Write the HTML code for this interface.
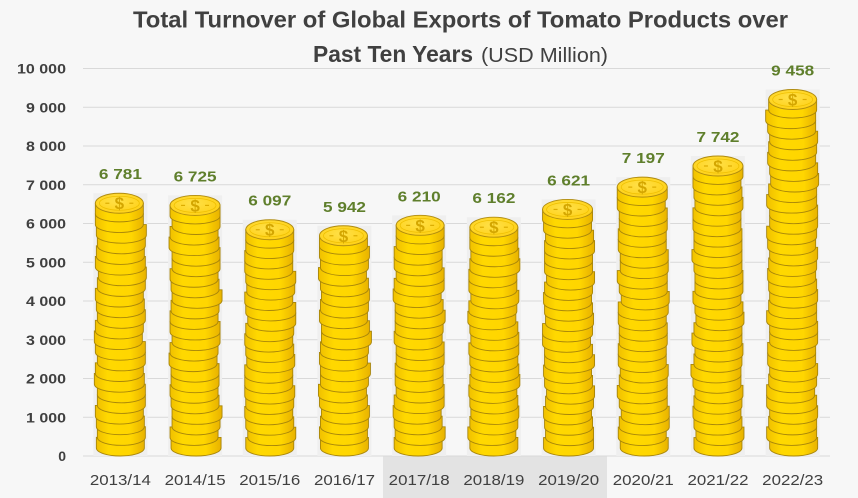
<!DOCTYPE html>
<html>
<head>
<meta charset="utf-8">
<style>
  html,body{margin:0;padding:0;background:#f7f7f7;}
  svg{display:block;}
  .t{font-family:"Liberation Sans",sans-serif;fill:#404040;}
</style>
</head>
<body>
<svg id="chart" width="858" height="498" viewBox="0 0 858 498" xmlns="http://www.w3.org/2000/svg">
  <defs>
    <linearGradient id="side" x1="0" y1="0" x2="1" y2="0">
      <stop offset="0" stop-color="#f0c000"/>
      <stop offset="0.25" stop-color="#ffd800"/>
      <stop offset="0.7" stop-color="#ffd600"/>
      <stop offset="1" stop-color="#e8b200"/>
    </linearGradient>
    <radialGradient id="face" cx="0.45" cy="0.4" r="0.7">
      <stop offset="0" stop-color="#ffe048"/>
      <stop offset="1" stop-color="#ffcf10"/>
    </radialGradient>
  </defs>
  <rect x="0" y="0" width="858" height="498" fill="#f7f7f7"/>
  <rect x="383" y="456" width="224" height="42" fill="#e3e3e3"/>

  <g stroke="#d9d9d9" stroke-width="1">
    <line x1="83" y1="68.5" x2="830" y2="68.5"/>
    <line x1="83" y1="107.25" x2="830" y2="107.25"/>
    <line x1="83" y1="146" x2="830" y2="146"/>
    <line x1="83" y1="184.75" x2="830" y2="184.75"/>
    <line x1="83" y1="223.5" x2="830" y2="223.5"/>
    <line x1="83" y1="262.25" x2="830" y2="262.25"/>
    <line x1="83" y1="301" x2="830" y2="301"/>
    <line x1="83" y1="339.75" x2="830" y2="339.75"/>
    <line x1="83" y1="378.5" x2="830" y2="378.5"/>
    <line x1="83" y1="417.25" x2="830" y2="417.25"/>
    <line x1="83" y1="456" x2="830" y2="456"/>
  </g>

  <g class="t" font-size="14" font-weight="bold" text-anchor="end">
    <text x="66" y="73.5" textLength="49" lengthAdjust="spacingAndGlyphs">10 000</text>
    <text x="66" y="112.25" textLength="40" lengthAdjust="spacingAndGlyphs">9 000</text>
    <text x="66" y="151" textLength="40" lengthAdjust="spacingAndGlyphs">8 000</text>
    <text x="66" y="189.75" textLength="40" lengthAdjust="spacingAndGlyphs">7 000</text>
    <text x="66" y="228.5" textLength="40" lengthAdjust="spacingAndGlyphs">6 000</text>
    <text x="66" y="267.25" textLength="40" lengthAdjust="spacingAndGlyphs">5 000</text>
    <text x="66" y="306" textLength="40" lengthAdjust="spacingAndGlyphs">4 000</text>
    <text x="66" y="344.75" textLength="40" lengthAdjust="spacingAndGlyphs">3 000</text>
    <text x="66" y="383.5" textLength="40" lengthAdjust="spacingAndGlyphs">2 000</text>
    <text x="66" y="422.25" textLength="40" lengthAdjust="spacingAndGlyphs">1 000</text>
    <text x="66" y="461">0</text>
  </g>

  <g id="coins"></g>

  <g font-family="Liberation Sans, sans-serif" font-size="15" font-weight="bold" fill="#5f7f2c" text-anchor="middle">
    <text x="120.4" y="179.2" textLength="43" lengthAdjust="spacingAndGlyphs">6 781</text>
    <text x="195.1" y="181.4" textLength="43" lengthAdjust="spacingAndGlyphs">6 725</text>
    <text x="269.8" y="205.7" textLength="43" lengthAdjust="spacingAndGlyphs">6 097</text>
    <text x="344.5" y="211.8" textLength="43" lengthAdjust="spacingAndGlyphs">5 942</text>
    <text x="419.2" y="201.4" textLength="43" lengthAdjust="spacingAndGlyphs">6 210</text>
    <text x="493.9" y="203.2" textLength="43" lengthAdjust="spacingAndGlyphs">6 162</text>
    <text x="568.6" y="185.4" textLength="43" lengthAdjust="spacingAndGlyphs">6 621</text>
    <text x="643.3" y="163.1" textLength="43" lengthAdjust="spacingAndGlyphs">7 197</text>
    <text x="718.0" y="142.0" textLength="43" lengthAdjust="spacingAndGlyphs">7 742</text>
    <text x="792.7" y="75.5" textLength="43" lengthAdjust="spacingAndGlyphs">9 458</text>
  </g>

  <g class="t" font-size="15" text-anchor="middle">
    <text x="120.4" y="485" textLength="61" lengthAdjust="spacingAndGlyphs">2013/14</text>
    <text x="195.1" y="485" textLength="61" lengthAdjust="spacingAndGlyphs">2014/15</text>
    <text x="269.8" y="485" textLength="61" lengthAdjust="spacingAndGlyphs">2015/16</text>
    <text x="344.5" y="485" textLength="61" lengthAdjust="spacingAndGlyphs">2016/17</text>
    <text x="419.2" y="485" textLength="61" lengthAdjust="spacingAndGlyphs">2017/18</text>
    <text x="493.9" y="485" textLength="61" lengthAdjust="spacingAndGlyphs">2018/19</text>
    <text x="568.6" y="485" textLength="61" lengthAdjust="spacingAndGlyphs">2019/20</text>
    <text x="643.3" y="485" textLength="61" lengthAdjust="spacingAndGlyphs">2020/21</text>
    <text x="718.0" y="485" textLength="61" lengthAdjust="spacingAndGlyphs">2021/22</text>
    <text x="792.7" y="485" textLength="61" lengthAdjust="spacingAndGlyphs">2022/23</text>
  </g>

  <text class="t" x="460.5" y="27.5" font-size="23" font-weight="bold" text-anchor="middle" textLength="655" lengthAdjust="spacingAndGlyphs">Total Turnover of Global Exports of Tomato Products over</text>
  <text class="t" x="313" y="62" font-size="23" font-weight="bold" textLength="160" lengthAdjust="spacingAndGlyphs">Past Ten Years</text>
  <text class="t" x="481" y="62" font-size="20" textLength="127" lengthAdjust="spacingAndGlyphs">(USD Million)</text>
</svg>

<script>
(function(){
  var NS = "http://www.w3.org/2000/svg";
  var g = document.getElementById("coins");
  var vals = [6781,6725,6097,5942,6210,6162,6621,7197,7742,9458];
  var base = 456, scale = 0.03875;
  function el(name, attrs){
    var e = document.createElementNS(NS, name);
    for (var k in attrs) e.setAttribute(k, attrs[k]);
    return e;
  }
  for (var b = 0; b < vals.length; b++){
    var cx = 83 + 74.7*(b+0.5);
    var top = base - vals[b]*scale;
    var H = base - top;
    g.appendChild(el("rect",{x:(cx-27).toFixed(2), y:top.toFixed(2), width:54, height:H.toFixed(2), fill:"#efefef"}));
    var rx = 24, ry = 8, fry = 10;
    var n = Math.max(1, Math.round((H - ry - fry)/10.5));
    var t = (H - ry - fry)/n;
    for (var i = 0; i < n; i++){
      var yc = base - ry - t*(i+1);
      var yb = yc + t;
      var dx = Math.round(1.2*Math.sin(i*1.7 + b*3.1) + 0.6*Math.sin(i*0.45 + b));
      var r = rx + (Math.sin(i*2.3+b*1.3) > 0.85 ? 1 : 0);
      var x0 = cx + dx - r, x1 = cx + dx + r;
      var d = "M"+x0.toFixed(2)+","+yc.toFixed(2)+" L"+x0.toFixed(2)+","+yb.toFixed(2)+
              " A"+r+","+ry+" 0 0 0 "+x1.toFixed(2)+","+yb.toFixed(2)+
              " L"+x1.toFixed(2)+","+yc.toFixed(2)+" Z";
      g.appendChild(el("path",{d:d, fill:"url(#side)", stroke:"#a8860a", "stroke-width":"0.9"}));
      if (i === n-1){
        var fx = cx + dx;
        g.appendChild(el("ellipse",{cx:fx.toFixed(2), cy:yc.toFixed(2), rx:r, ry:fry, fill:"url(#face)", stroke:"#b08c10", "stroke-width":"0.9"}));
        g.appendChild(el("ellipse",{cx:fx.toFixed(2), cy:yc.toFixed(2), rx:r-4, ry:fry-3, fill:"none", stroke:"#efc000", "stroke-width":"0.8"}));
        var s = el("text",{x:fx.toFixed(2), y:(yc+6).toFixed(2), "text-anchor":"middle", "font-family":"Liberation Sans, sans-serif", "font-size":"17", "font-weight":"bold", fill:"#d4a600"});
        s.textContent = "$";
        g.appendChild(s);
        g.appendChild(el("line",{x1:(fx-14).toFixed(2), y1:yc.toFixed(2), x2:(fx-10).toFixed(2), y2:yc.toFixed(2), stroke:"#dcac00", "stroke-width":"1.2"}));
        g.appendChild(el("line",{x1:(fx+10).toFixed(2), y1:yc.toFixed(2), x2:(fx+14).toFixed(2), y2:yc.toFixed(2), stroke:"#dcac00", "stroke-width":"1.2"}));
      }
    }
  }
})();
</script>
</body>
</html>
